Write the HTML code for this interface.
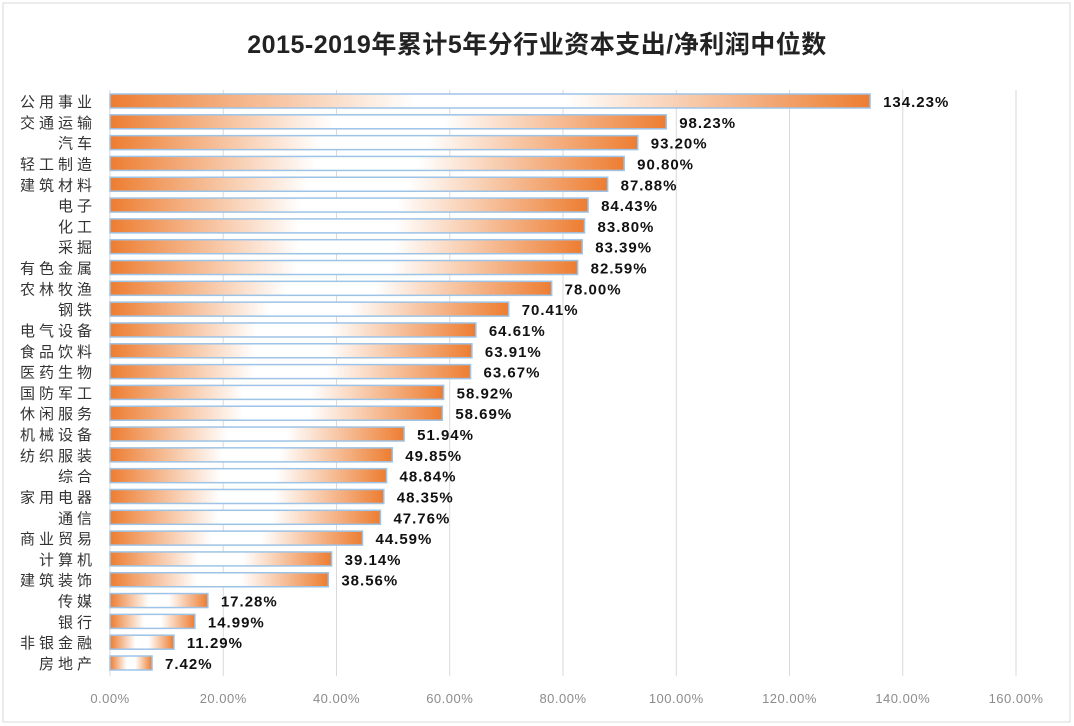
<!DOCTYPE html>
<html><head><meta charset="utf-8"><style>
body{margin:0;background:#fff;}
svg{display:block;font-family:"Liberation Sans","Noto Sans CJK SC",sans-serif;}
</style></head><body>
<svg id="c" width="1074" height="726">
<defs><linearGradient id="g" x1="0" x2="1" y1="0" y2="0">
<stop offset="0" stop-color="#ed7d31"/><stop offset="0.4" stop-color="#ffffff"/><stop offset="0.6" stop-color="#ffffff"/><stop offset="1" stop-color="#ed7d31"/>
</linearGradient></defs>
<rect x="3" y="3" width="1067" height="719" fill="#fff" stroke="#d9d9d9"/>
<text x="537" y="53" text-anchor="middle" font-size="25" font-weight="bold" fill="#222" letter-spacing="0.5">2015-2019年累计5年分行业资本支出/净利润中位数</text>
<g id="grid"></g><g id="bars"></g><g id="labels"></g>
</svg>
<script>
const categories=["公用事业","交通运输","汽车","轻工制造","建筑材料","电子","化工","采掘","有色金属","农林牧渔","钢铁","电气设备","食品饮料","医药生物","国防军工","休闲服务","机械设备","纺织服装","综合","家用电器","通信","商业贸易","计算机","建筑装饰","传媒","银行","非银金融","房地产"];
const values=[134.23,98.23,93.20,90.80,87.88,84.43,83.80,83.39,82.59,78.00,70.41,64.61,63.91,63.67,58.92,58.69,51.94,49.85,48.84,48.35,47.76,44.59,39.14,38.56,17.28,14.99,11.29,7.42];
const ticks=[0,20,40,60,80,100,120,140,160];
const ns="http://www.w3.org/2000/svg";
const x0=110,x1=1016,xmax=160;
const X=v=>x0+(v/xmax)*(x1-x0);
const yTop=101,yBot=663;
const step=(yBot-yTop)/(categories.length-1);
const Y=i=>yTop+i*step;
function mk(t,a,p){const e=document.createElementNS(ns,t);for(const k in a)e.setAttribute(k,a[k]);p.appendChild(e);return e;}
const grid=document.getElementById('grid'),bars=document.getElementById('bars'),labels=document.getElementById('labels');
ticks.forEach(t=>{
 const l=mk('line',{x1:X(t),x2:X(t),y1:90,y2:676,stroke:'#d9d9d9'},grid);
 
 
 const tx=mk('text',{x:X(t),y:703,'text-anchor':'middle','font-size':13,fill:'#8c8c8c','letter-spacing':'0.5'},grid);
 tx.textContent=t.toFixed(2)+'%';
 
 
});
categories.forEach((c,i)=>{
 const y=Y(i);
 const r=mk('rect',{x:x0,y:y-7,width:X(values[i])-x0,height:14,fill:'url(#g)',stroke:'#9dc3e6','stroke-width':1.5},bars);
 
 
 const t=mk('text',{x:96,y:y+6,'text-anchor':'end','font-size':15,fill:'#333','letter-spacing':'4'},labels);
 t.textContent=c;
 
 
 const v=mk('text',{x:X(values[i])+13,y:y+6,'font-size':15,'font-weight':'bold',fill:'#111','letter-spacing':'1'},labels);
 v.textContent=values[i].toFixed(2)+'%';
 
 
});
</script>
</body></html>
